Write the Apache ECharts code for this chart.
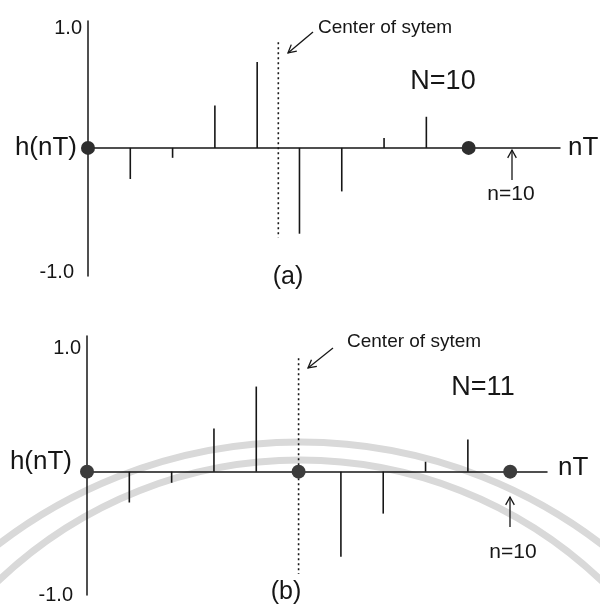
<!DOCTYPE html>
<html>
<head>
<meta charset="utf-8">
<script src="https://cdn.jsdelivr.net/npm/echarts@6/dist/echarts.min.js"></script>
<style>
html,body{margin:0;padding:0;background:#fff;}
#c{width:600px;height:605px;}
</style>
</head>
<body>
<div id="c"></div>
<script>
// ---- data (a): N = 10 ----
const nA = [0, 1, 2, 3, 4, 5, 6, 7, 8, 9];
const hA = [0, -0.25, -0.08, 0.34, 0.69, -0.69, -0.35, 0.08, 0.25, 0];
const dotsA = [0, 9];
const centerA = 4.5;
const centerLineA = [0.85, -0.72];
// ---- data (b): N = 11 ----
const nB = [0, 1, 2, 3, 4, 5, 6, 7, 8, 9, 10];
const hB = [0, -0.25, -0.09, 0.35, 0.69, 0, -0.69, -0.34, 0.08, 0.26, 0];
const dotsB = [0, 5, 10];
const centerB = 5;
const centerLineB = [0.92, -0.83];
// ---- tick labels ----
const yTicks = [-1, 1];

const FONT = '"Liberation Sans", Arial, sans-serif';
const INK = '#161616';

function xAx(gi, max) {
  return {
    type: 'value', gridIndex: gi, min: 0, max: max,
    axisLine: { show: true, onZero: true, lineStyle: { color: INK, width: 1.5 } },
    axisTick: { show: false }, axisLabel: { show: false }, splitLine: { show: false }
  };
}
function yAx(gi, min, max, topPad) {
  return {
    type: 'value', gridIndex: gi, min: min, max: max,
    axisLine: { show: true, onZero: false, lineStyle: { color: INK, width: 1.5 } },
    axisTick: { show: false }, splitLine: { show: false },
    axisLabel: {
      customValues: yTicks, margin: 6, fontFamily: FONT, fontSize: 20, color: INK,
      formatter: v => v < 0 ? '{neg|' + v.toFixed(1) + '}' : '{pos|' + v.toFixed(1) + '}',
      rich: {
        neg: { fontFamily: FONT, fontSize: 20, color: INK, padding: [0, 8, 0, 0] },
        pos: { fontFamily: FONT, fontSize: 20, color: INK, padding: [topPad, 0, 0, 0] }
      }
    }
  };
}
function stems(gi, ns, hs) {
  return {
    type: 'bar', xAxisIndex: gi, yAxisIndex: gi, barWidth: 1.6, silent: true,
    itemStyle: { color: INK }, data: ns.map((n, i) => [n, hs[i]]), z: 3
  };
}
function dots(gi, ds, color) {
  return {
    type: 'scatter', xAxisIndex: gi, yAxisIndex: gi, symbolSize: 14, silent: true,
    itemStyle: { color: color, opacity: 1 }, data: ds.map(n => [n, 0]), z: 5
  };
}
function center(gi, c, ext) {
  return {
    type: 'line', xAxisIndex: gi, yAxisIndex: gi, symbol: 'none', silent: true,
    lineStyle: { color: INK, width: 1.6, type: [2, 3] },
    data: ext.map(v => [c, v]), z: 4
  };
}
function txt(x, y, s, size, align) {
  return { type: 'text', x: x, y: y, z: 10,
    style: { text: s, fontFamily: FONT, fontSize: size, fill: INK, align: align || 'left', verticalAlign: 'middle' } };
}
function arrow(x1, y1, x2, y2) {
  const a = Math.atan2(y2 - y1, x2 - x1), L = 9, w = 0.5;
  const p1 = [x2 - L * Math.cos(a - w), y2 - L * Math.sin(a - w)];
  const p2 = [x2 - L * Math.cos(a + w), y2 - L * Math.sin(a + w)];
  return [
    { type: 'line', z: 10, shape: { x1, y1, x2, y2 }, style: { stroke: INK, lineWidth: 1.3 } },
    { type: 'polyline', z: 10, shape: { points: [p1, [x2, y2], p2] }, style: { stroke: INK, lineWidth: 1.3, fill: null } }
  ];
}

const chart = echarts.init(document.getElementById('c'), null, { renderer: 'canvas' });
chart.setOption({
  backgroundColor: '#ffffff',
  animation: false,
  grid: [
    { left: 88, top: 21, width: 472, height: 255 },
    { left: 87, top: 336, width: 460, height: 260 }
  ],
  xAxis: [xAx(0, 11.16), xAx(1, 10.87)],
  yAxis: [yAx(0, -1.03, 1.02, 9), yAx(1, -1, 1.1, 0)],
  series: [
    stems(0, nA, hA), dots(0, dotsA, '#2e2e2e'), center(0, centerA, centerLineA),
    stems(1, nB, hB), dots(1, dotsB, '#3c3c3c'), center(1, centerB, centerLineB)
  ],
  graphic: [
    // faint watermark arcs of the scan
    { type: 'circle', z: -10, silent: true, shape: { cx: 300, cy: 937, r: 495 }, style: { fill: null, stroke: '#d9d9d9', lineWidth: 7 } },
    { type: 'circle', z: -10, silent: true, shape: { cx: 300, cy: 897, r: 437 }, style: { fill: null, stroke: '#d9d9d9', lineWidth: 7 } },
    // panel (a)
    txt(318, 28, 'Center of sytem', 19),
    ...arrow(313, 32, 288, 53),
    txt(443, 82, 'N=10', 27, 'center'),
    txt(77, 148, 'h(nT)', 26, 'right'),
    txt(568, 148, 'nT', 26),
    txt(288, 277, '(a)', 25, 'center'),
    txt(511, 194, 'n=10', 21, 'center'),
    ...arrow(512, 180, 512, 150),
    // panel (b)
    txt(347, 342, 'Center of sytem', 19),
    ...arrow(333, 348, 308, 368),
    txt(483, 388, 'N=11', 27, 'center'),
    txt(72, 462, 'h(nT)', 26, 'right'),
    txt(558, 468, 'nT', 26),
    txt(286, 592, '(b)', 25, 'center'),
    txt(513, 552, 'n=10', 21, 'center'),
    ...arrow(510, 527, 510, 497)
  ]
});
</script>
</body>
</html>
